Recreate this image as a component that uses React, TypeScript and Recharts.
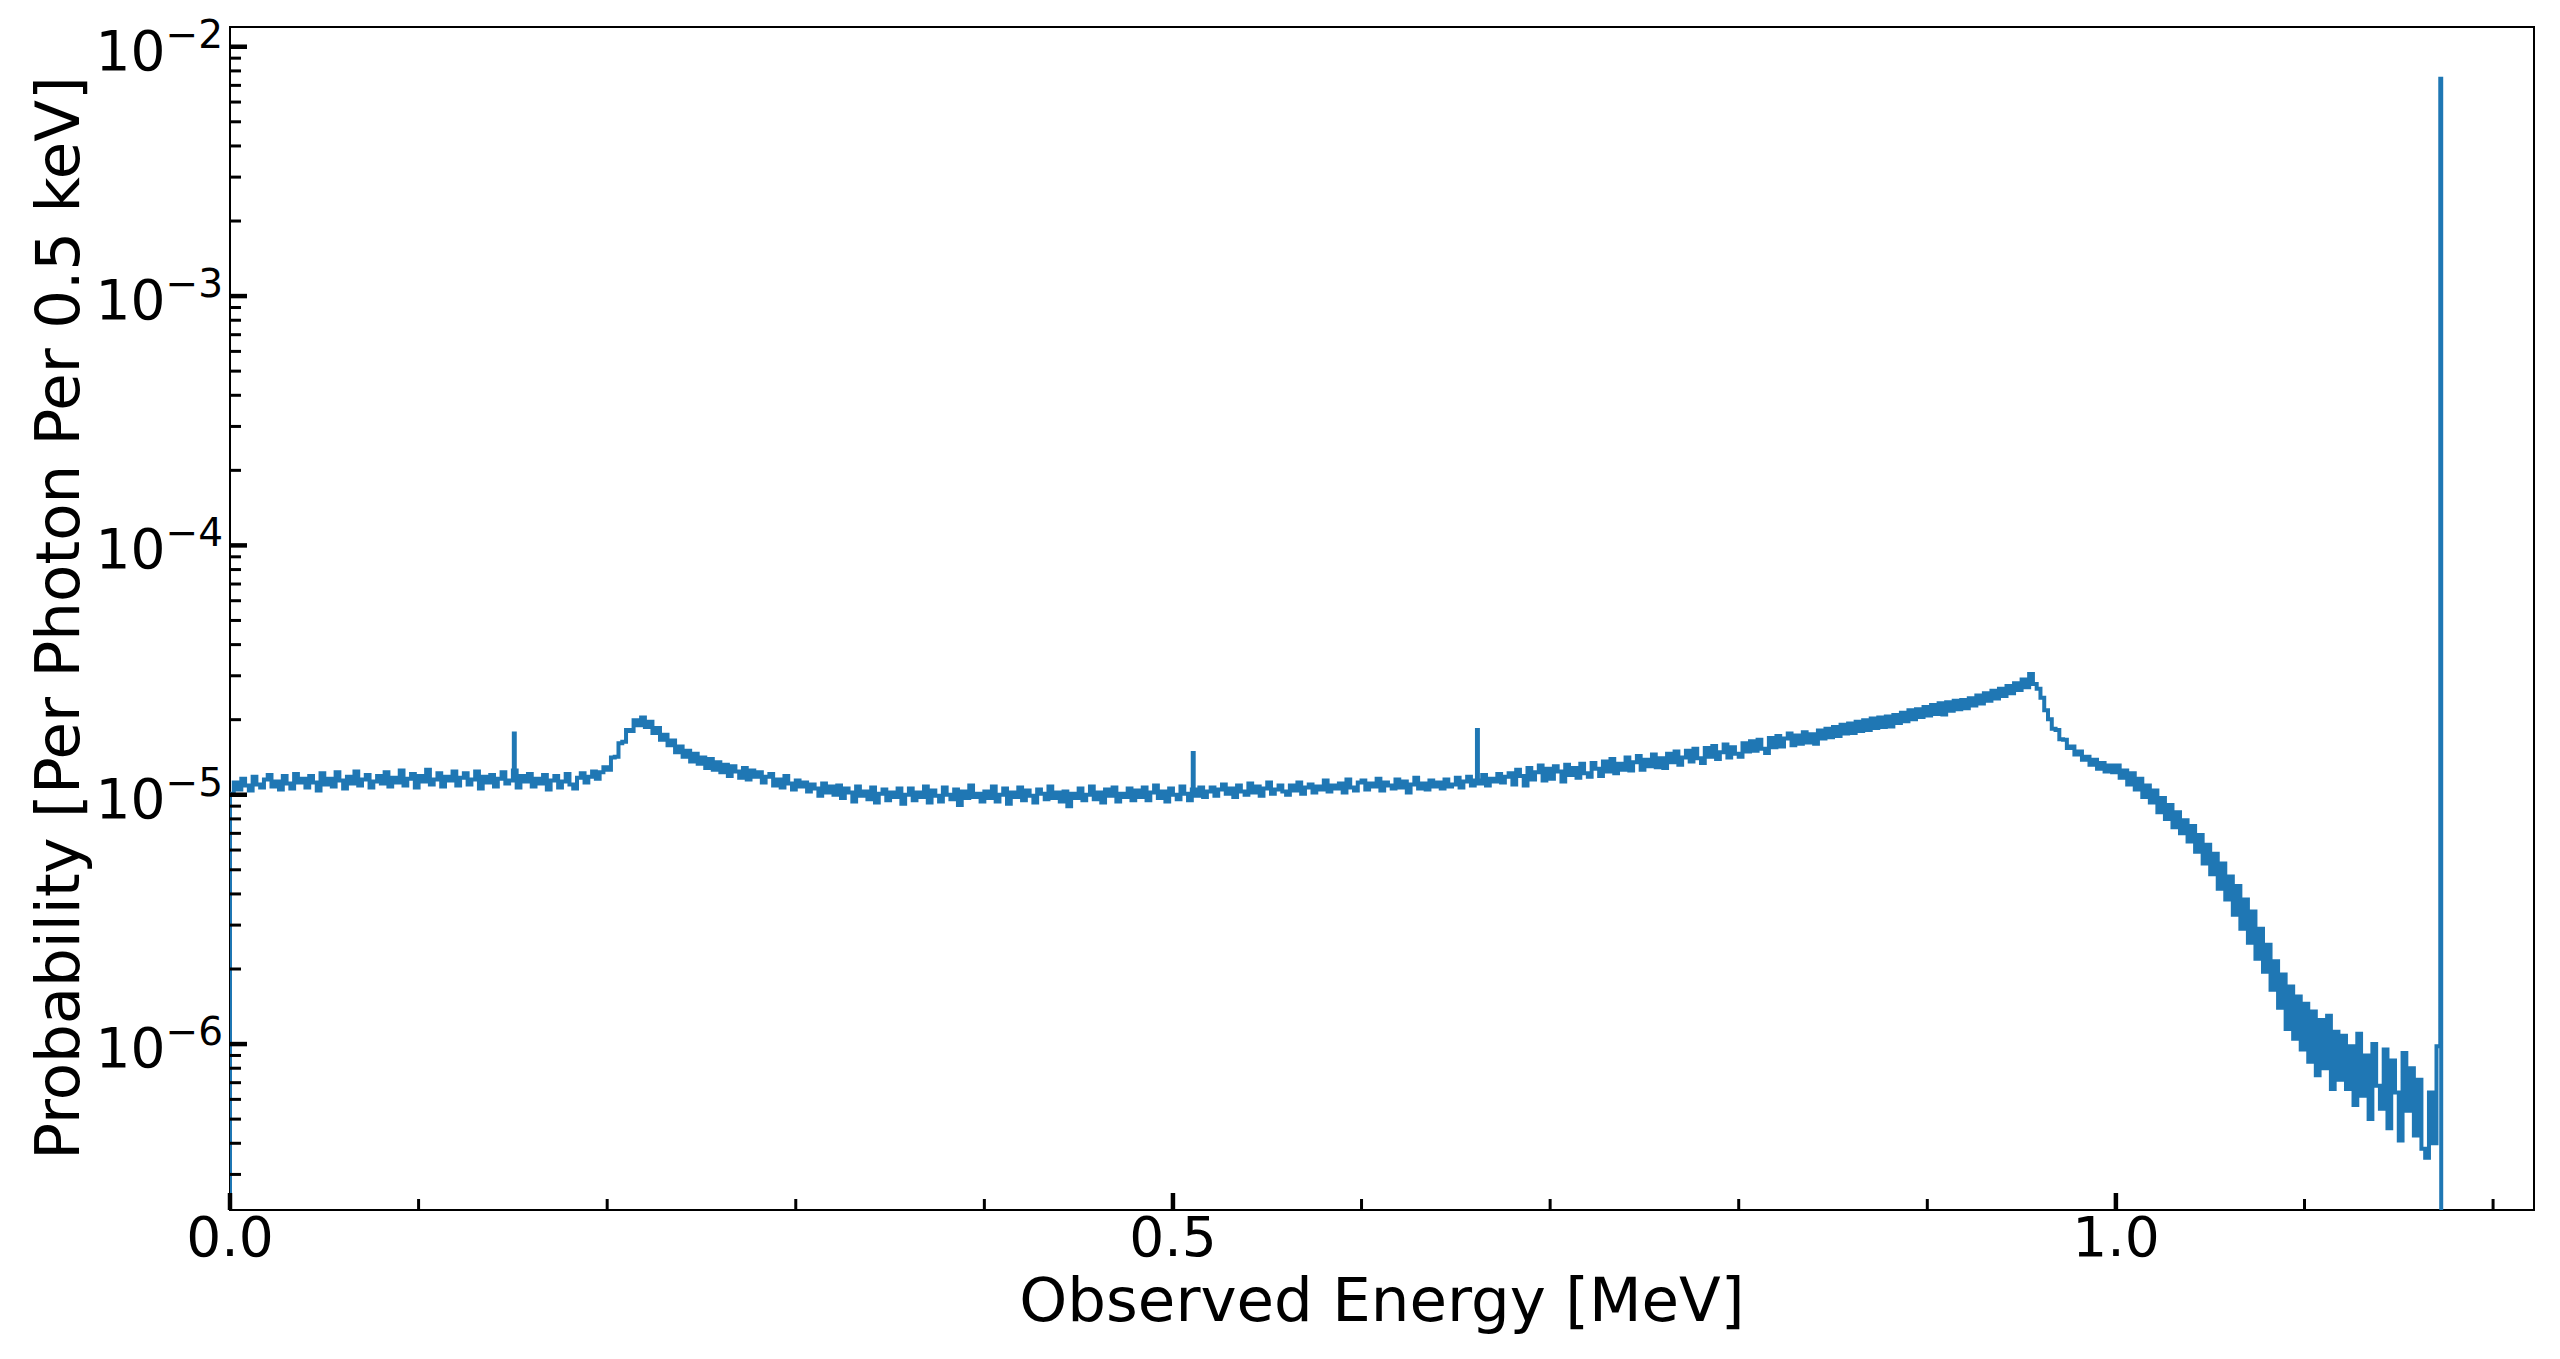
import { Line, LineChart, ReferenceArea, XAxis, YAxis } from "recharts";

// detector response in 2 keV steps (units of 1e-6)
const BIN_WIDTH = 0.002;
const probE6 = [
    10.1, 11.2, 10.5, 11.6, 10.9, 10.4, 11.8, 11.0, 10.7, 11.5, 12.0, 10.8, 11.3, 10.5, 11.9, 11.1, 10.6, 12.1, 11.2, 11.6,
    10.7, 11.9, 11.2, 10.4, 12.2, 11.0, 11.6, 10.8, 12.3, 11.4, 10.6, 11.8, 11.1, 12.4, 10.9, 11.5, 12.0, 10.7, 11.3, 11.9,
    11.1, 12.3, 10.8, 11.7, 11.2, 12.5, 10.9, 11.6, 12.1, 10.7, 11.9, 11.3, 12.6, 11.0, 11.5, 12.2, 10.8, 11.8, 11.4, 12.4,
    10.9, 11.7, 12.2, 11.0, 11.5, 12.4, 10.6, 11.8, 11.2, 12.0, 10.8, 11.6, 12.3, 11.1, 11.4, 12.5, 10.7, 11.9, 11.3, 12.1,
    10.8, 11.6, 11.1, 12.0, 10.5, 11.4, 11.9, 10.7, 11.3, 12.1, 11.0, 10.6, 11.7, 12.2, 11.2, 11.8, 12.4, 11.6, 12.3, 12.9,
    12.6, 14.1, 14.2, 16.1, 16.3, 18.2, 18.0, 19.9, 19.0, 20.4, 18.7, 19.6, 17.7, 18.5, 16.6, 17.4, 15.8, 16.5, 14.8, 15.6,
    14.2, 15.0, 13.6, 14.6, 13.3, 14.1, 12.8, 13.9, 12.6, 13.5, 12.3, 13.2, 11.9, 13.0, 12.4, 11.7, 12.8, 11.5, 12.5, 11.8,
    12.3, 11.2, 11.8, 12.1, 10.9, 11.5, 10.7, 11.9, 11.1, 10.5, 11.4, 10.8, 11.2, 10.3, 11.0, 10.6, 9.9, 11.1, 10.2, 10.8,
    10.0, 10.9, 9.7, 10.6, 10.2, 9.4, 10.8, 9.9, 10.3, 9.6, 10.7, 9.3, 10.1, 10.5, 9.5, 10.2, 9.8, 10.6, 9.2, 10.0,
    10.6, 9.5, 10.2, 9.8, 10.8, 9.3, 10.4, 9.9, 9.4, 10.7, 10.0, 9.6, 10.5, 9.1, 10.3, 9.7, 10.9, 9.8, 10.1, 9.4,
    10.3, 9.7, 10.8, 9.4, 10.0, 10.6, 9.2, 10.2, 9.8, 10.7, 9.5, 10.4, 9.9, 9.3, 10.5, 10.1, 9.6, 10.8, 9.7, 10.2,
    9.4, 10.3, 9.0, 10.1, 9.7, 10.6, 9.5, 10.0, 10.8, 9.6, 10.2, 9.3, 10.5, 9.9, 10.7, 9.4, 10.1, 9.8, 10.6, 9.5,
    10.4, 9.8, 10.7, 9.5, 10.2, 10.9, 9.7, 10.3, 9.4, 10.6, 10.0, 9.6, 10.8, 10.1, 9.5, 10.5, 9.9, 10.7, 9.8, 10.3,
    10.7, 9.9, 10.5, 11.0, 10.1, 10.6, 9.8, 10.9, 10.3, 10.0, 11.1, 10.2, 10.8, 9.9, 10.6, 11.2, 10.1, 10.5, 10.9, 10.3,
    10.0, 10.9, 10.4, 11.2, 10.1, 10.7, 11.0, 10.2, 10.8, 10.5, 11.4, 10.3, 10.9, 10.6, 11.1, 10.2, 11.5, 10.7, 10.4, 11.2,
    11.4, 10.5, 11.1, 10.8, 11.6, 10.4, 11.2, 10.9, 10.6, 11.5, 10.7, 11.3, 10.2, 11.0, 11.7, 10.6, 11.1, 10.5, 11.4, 10.8,
    11.2, 10.6, 11.5, 10.8, 11.0, 11.7, 10.7, 11.3, 11.8, 10.9, 11.4, 11.1, 12.0, 10.9, 11.6, 11.3, 12.1, 11.2, 11.8, 12.2,
    11.0, 12.6, 11.9, 10.9, 12.8, 11.5, 12.3, 13.1, 11.4, 12.7, 11.6, 13.0, 12.4, 11.3, 13.2, 12.0, 12.8, 11.7, 13.3, 12.2,
    11.8, 13.4, 12.7, 11.9, 13.6, 12.4, 13.9, 12.2, 13.3, 12.6, 14.1, 12.5, 13.5, 14.3, 12.6, 13.8, 13.0, 14.5, 12.9, 14.0,
    12.8, 14.6, 13.5, 14.9, 13.2, 14.1, 15.0, 13.6, 15.3, 14.0, 13.4, 15.4, 14.2, 15.7, 13.9, 14.8, 15.9, 14.1, 15.5, 14.6,
    14.2, 16.1, 14.9, 16.4, 15.0, 16.6, 15.3, 14.7, 16.9, 15.5, 17.2, 15.6, 16.8, 17.6, 15.8, 17.3, 16.0, 17.8, 16.2, 17.5,
    16.0, 18.1, 16.8, 18.4, 17.0, 18.7, 17.2, 19.1, 17.6, 19.3, 17.7, 19.6, 18.0, 19.9, 18.2, 20.2, 18.5, 20.4, 18.7, 20.6,
    18.8, 20.9, 19.4, 21.3, 19.7, 21.8, 20.1, 22.0, 20.5, 22.5, 20.8, 22.9, 21.1, 23.3, 21.0, 23.5, 21.7, 23.8, 22.0, 24.0,
    22.2, 24.4, 22.8, 25.0, 23.2, 25.5, 23.8, 26.1, 24.3, 26.6, 24.9, 27.3, 25.5, 28.0, 26.3, 29.0, 27.0, 30.5, 27.8, 26.6,
    24.5, 21.8, 20.1, 18.4, 18.2, 16.7, 16.6, 15.4, 15.6, 14.5, 14.9, 13.8, 14.2, 13.2, 13.8, 12.7, 13.4, 12.4, 13.1, 12.3,
    13.1, 11.7, 12.5, 11.0, 12.2, 10.5, 11.6, 9.8, 10.9, 9.3, 10.4, 8.5, 9.7, 8.0, 9.1, 7.4, 8.5, 7.0, 7.9, 6.5,
    7.5, 5.9, 6.9, 5.3, 6.3, 4.8, 5.8, 4.2, 5.3, 3.8, 4.7, 3.3, 4.3, 2.9, 3.8, 2.55, 3.4, 2.2, 2.9, 1.95,
    2.5, 1.65, 2.15, 1.4, 1.9, 1.15, 1.7, 1.05, 1.55, 0.95, 1.45, 0.85, 1.35, 0.75, 1.25, 0.8, 1.3, 0.66, 1.12, 0.72,
    1.08, 0.66, 0.98, 0.57, 1.1, 0.62, 0.9, 0.5, 1.0, 0.68, 0.55, 0.95, 0.46, 0.86, 0.64, 0.41, 0.92, 0.54, 0.8, 0.43,
    0.72, 0.38, 0.35, 0.64, 0.4, 0.98,
];

// narrow single-bin lines sitting on the continuum
const lineEnergies = [0.1505, 0.5105, 0.6612];
const lineProbE6 = [17.6, 14.7, 18.2];

// full-energy peak (1.173 MeV)
const peakEnergy = 1.172;
const peakProb = 7.44e-3;

const FLOOR = 1e-10; // empty bins, below the axis
const NARROW = 0.0005;

const X_MAX = 1.2217;
const Y_MIN = 2.16e-7;
const Y_MAX = 1.2e-2;

const xMajor = [0, 0.5, 1.0];
const xTicks = [0, 0.1, 0.2, 0.3, 0.4, 0.5, 0.6, 0.7, 0.8, 0.9, 1.0, 1.1, 1.2];
const yExponents = [-7, -6, -5, -4, -3];
const yMult = [1, 2, 3, 4, 5, 6, 7, 8, 9];

const yTicks: number[] = [];
yExponents.forEach((k) => yMult.forEach((m) => {
    const v = m * Math.pow(10, k);
    if (v >= Y_MIN && v <= Y_MAX) yTicks.push(v);
}));
yTicks.push(1e-2);

const buildData = () => {
    const rows: { e: number; p: number }[] = [{ e: 0, p: FLOOR }];
    probE6.forEach((v, i) => rows.push({ e: i * BIN_WIDTH, p: v * 1e-6 }));
    lineEnergies.forEach((e, i) => {
        const bin = Math.floor(e / BIN_WIDTH);
        rows.push({ e, p: lineProbE6[i] * 1e-6 });
        rows.push({ e: e + NARROW, p: probE6[bin] * 1e-6 });
    });
    rows.sort((a, b) => a.e - b.e);
    rows.push({ e: peakEnergy, p: peakProb });
    rows.push({ e: peakEnergy + NARROW, p: FLOOR });
    return rows;
};
const data = buildData();

const FONT = "DejaVu Sans";

const XTick = (props: any) => {
    const { x, y, payload } = props;
    const major = xMajor.some((m) => Math.abs(m - payload.value) < 1e-9);
    return (
        <g>
            <line x1={x} x2={x} y1={y} y2={y - (major ? 17 : 11)} stroke="#000" strokeWidth={major ? 4.5 : 3} />
            {major && (
                <text x={x} y={y + 46} textAnchor="middle" fontSize={55} fontFamily={FONT} fill="#000">
                    {payload.value.toFixed(1)}
                </text>
            )}
        </g>
    );
};

const YTick = (props: any) => {
    const { x, y, payload } = props;
    const lg = Math.log10(payload.value);
    const major = Math.abs(lg - Math.round(lg)) < 1e-9;
    return (
        <g>
            <line x1={x} x2={x + (major ? 17 : 11)} y1={y} y2={y} stroke="#000" strokeWidth={major ? 4.5 : 3} />
            {major && (
                <text x={x - 7} y={y + 23} textAnchor="end" fontSize={55} fontFamily={FONT} fill="#000">
                    <tspan>10</tspan>
                    <tspan dy={-22} fontSize={39}>{"\u2212" + Math.abs(Math.round(lg))}</tspan>
                </text>
            )}
        </g>
    );
};

export default function App() {
    return (
        <div style={{ width: 2544, height: 1343 }}>
            <LineChart width={2544} height={1343} data={data} margin={{ top: 19, right: 18, bottom: 41, left: 0 }}>
                <XAxis
                    dataKey="e"
                    type="number"
                    domain={[0, X_MAX]}
                    allowDataOverflow
                    ticks={xTicks}
                    interval={0}
                    tick={<XTick />}
                    tickLine={false}
                    tickSize={0}
                    tickMargin={0}
                    axisLine={false}
                    height={100}
                    label={{
                        content: () => (
                            <text x={1374} y={1313} textAnchor="middle" fontSize={61} fontFamily={FONT} fill="#000">
                                Observed Energy [MeV]
                            </text>
                        ),
                    }}
                />
                <YAxis
                    type="number"
                    scale="log"
                    domain={[Y_MIN, Y_MAX]}
                    allowDataOverflow
                    ticks={yTicks}
                    interval={0}
                    tick={<YTick />}
                    tickLine={false}
                    tickSize={0}
                    tickMargin={0}
                    axisLine={false}
                    width={222}
                    label={{
                        content: () => (
                            <text
                                x={71}
                                y={610}
                                textAnchor="middle"
                                fontSize={61}
                                fontFamily={FONT}
                                fill="#000"
                                transform="rotate(-90 71 610)"
                            >
                                Probability [Per Photon Per 0.5 keV]
                            </text>
                        ),
                    }}
                />
                <Line
                    dataKey="p"
                    type="stepAfter"
                    stroke="#1f77b4"
                    strokeWidth={4}
                    dot={false}
                    activeDot={false}
                    isAnimationActive={false}
                />
                <ReferenceArea x1={0} x2={X_MAX} y1={Y_MIN} y2={Y_MAX} fill="none" stroke="#000" strokeWidth={2} ifOverflow="extendDomain" />
            </LineChart>
        </div>
    );
}
